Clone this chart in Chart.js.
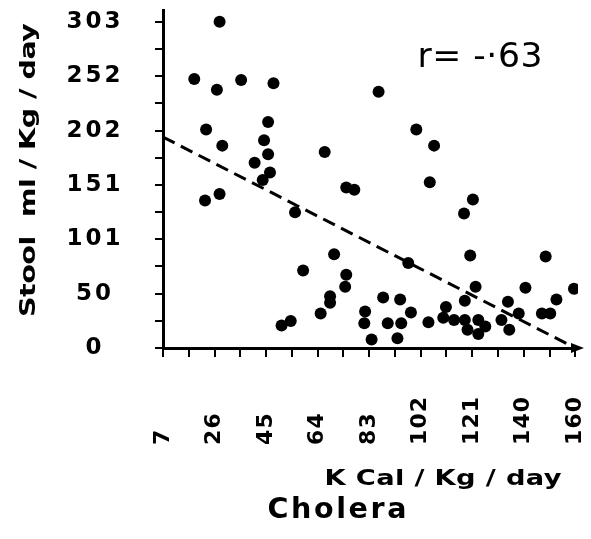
<!DOCTYPE html>
<html>
<head>
<meta charset="utf-8">
<script src="https://cdn.jsdelivr.net/npm/chart.js@4"></script>
<style>
html,body{margin:0;padding:0;background:#fff;}
#c{display:block;}
</style>
</head>
<body>
<canvas id="c" width="591" height="539" style="width:591px;height:539px"></canvas>
<script>
// ---- data ----
const xTickLabels = ['7','26','45','64','83','102','121','140','160'];
const yTickLabels = ['0','50','101','151','202','252','303'];
const kcal = [28,18.6,27,36,48,46,23,44.5,29,46,67,41,46.7,44,75,78,28,22.6,56,70.5,59,75,74.6,69,69,65.5,54.4,51,82,81.7,84.4,87,101,107.6,106,122,118.7,121,149,98,123,141.5,159.5,88.7,95,119,153,135,112,99,139,147.6,150.7,105.5,111,115,119,120,124,126.6,124,132.6,135.5,90.4,95.4,94];
const stool = [303,250,240,249,246,210,203,193,188,180,182,172,163,156,149,147,143,137,126,87,72,68,57,48,42,32,25,21,34,23,8,238,203,188,154,138,125,86,85,79,57,56,55,47,45,44,45,43,38,33,32,32,32,24,28,26,26,17,26,20,13,26,17,23,23,9];
const regLineX = [7, 160];
const regLineY = [196, 0];
const yTitle = 'Stool  ml / Kg / day';
const xTitle = 'K Cal / Kg / day';
const subTitle = 'Cholera';
const corrText = 'r= -\u00B763';

const xMin = 7, xMax = 160, yMax = 303;

function spacedText(ctx, text, cx, cy, target, font, rot, sx) {
  sx = sx || 1;
  ctx.save();
  ctx.font = font;
  ctx.letterSpacing = '0px';
  const w = ctx.measureText(text).width;
  const n = [...text].length;
  const t = target / sx;
  const ls = n > 1 ? (t - w) / (n - 1) : 0;
  ctx.letterSpacing = ls + 'px';
  ctx.translate(cx, cy);
  if (rot) ctx.rotate(rot);
  ctx.scale(sx, 1);
  ctx.textAlign = 'left';
  ctx.textBaseline = 'middle';
  ctx.fillStyle = '#000';
  ctx.fillText(text, -t / 2, 0);
  ctx.restore();
}

const decor = {
  id: 'decor',
  afterDraw(chart) {
    const ctx = chart.ctx;
    const a = chart.chartArea;
    // arrow head at end of x axis
    ctx.save();
    ctx.fillStyle = '#000';
    ctx.beginPath();
    ctx.moveTo(a.right + 6, a.bottom);
    ctx.lineTo(a.right - 7, a.bottom - 5);
    ctx.lineTo(a.right - 7, a.bottom + 5);
    ctx.closePath();
    ctx.fill();
    ctx.restore();
    spacedText(ctx, yTitle, 29, 170, 294, 'bold 22px "DejaVu Sans"', -Math.PI / 2, 1.3);
    spacedText(ctx, xTitle, 443, 480, 237, 'bold 21px "DejaVu Sans"', 0, 1.3);
    spacedText(ctx, subTitle, 337, 511, 139, 'bold 28px "DejaVu Sans"', 0, 1.02);
    spacedText(ctx, corrText, 480, 58, 125, '33px "DejaVu Sans"', 0, 1.05);
  }
};

function patchLabels(s, spacing) {
  if (s._lsPatched) return;
  s._lsPatched = true;
  const orig = s.drawLabels.bind(s);
  s.drawLabels = function (area) {
    const ctx = this.ctx;
    ctx.save();
    ctx.letterSpacing = spacing;
    orig(area);
    ctx.restore();
  };
}

Chart.defaults.font.family = '"DejaVu Sans"';
Chart.defaults.color = '#000';

const points = kcal.map((x, i) => ({ x: x, y: stool[i] }));
const reg = regLineX.map((x, i) => ({ x: x, y: regLineY[i] }));

new Chart(document.getElementById('c'), {
  type: 'scatter',
  data: {
    datasets: [
      {
        data: points,
        backgroundColor: '#000',
        borderColor: '#000',
        pointRadius: 6,
        pointHoverRadius: 6,
        pointBorderWidth: 0
      },
      {
        type: 'line',
        data: reg,
        showLine: true,
        borderColor: '#000',
        borderWidth: 3,
        borderDash: [13, 7],
        pointRadius: 0,
        fill: false,
        tension: 0
      }
    ]
  },
  options: {
    responsive: false,
    animation: false,
    devicePixelRatio: 1,
    layout: { padding: { left: 0, right: 13, top: 10, bottom: 0 } },
    plugins: {
      legend: { display: false },
      tooltip: { enabled: false },
      title: { display: false }
    },
    scales: {
      x: {
        type: 'linear',
        min: xMin,
        max: 161,
        afterBuildTicks: s => {
          const n = (xTickLabels.length - 1) * 2;
          s.ticks = Array.from({ length: n + 1 }, (_, i) => ({ value: xMin + i * (xMax - xMin) / n }));
        },
        afterFit: s => {
          s.height = 191;
          s.paddingLeft = 0; s.paddingRight = 0; s.paddingTop = 0; s.paddingBottom = 0;
          patchLabels(s, '1px');
        },
        ticks: {
          autoSkip: false,
          minRotation: 90,
          maxRotation: 90,
          padding: 39,
          color: '#000',
          font: { size: 22, weight: 'bold' },
          callback: (v, i) => (i % 2 === 0 ? xTickLabels[i / 2].padEnd(3, '\u2007') : '')
        },
        grid: { display: true, drawOnChartArea: false, drawTicks: true, tickLength: 9, color: '#000', lineWidth: 2 },
        border: { display: true, color: '#000', width: 3 }
      },
      y: {
        type: 'linear',
        min: 0,
        max: 314,
        afterBuildTicks: s => {
          const n = (yTickLabels.length - 1) * 2;
          s.ticks = Array.from({ length: n + 1 }, (_, i) => ({ value: i * yMax / n }));
        },
        afterFit: s => {
          s.width = 163;
          s.paddingLeft = 0; s.paddingRight = 0; s.paddingTop = 0; s.paddingBottom = 0;
          patchLabels(s, '3px');
        },
        ticks: {
          autoSkip: false,
          crossAlign: 'center',
          padding: 36,
          color: '#000',
          font: { size: 23, weight: 'bold' },
          callback: (v, i) => (i % 2 === 0 ? yTickLabels[i / 2] : '')
        },
        grid: { display: true, drawOnChartArea: false, drawTicks: true, tickLength: 8, color: '#000', lineWidth: 2 },
        border: { display: true, color: '#000', width: 3 }
      }
    }
  },
  plugins: [decor]
});
</script>
</body>
</html>
